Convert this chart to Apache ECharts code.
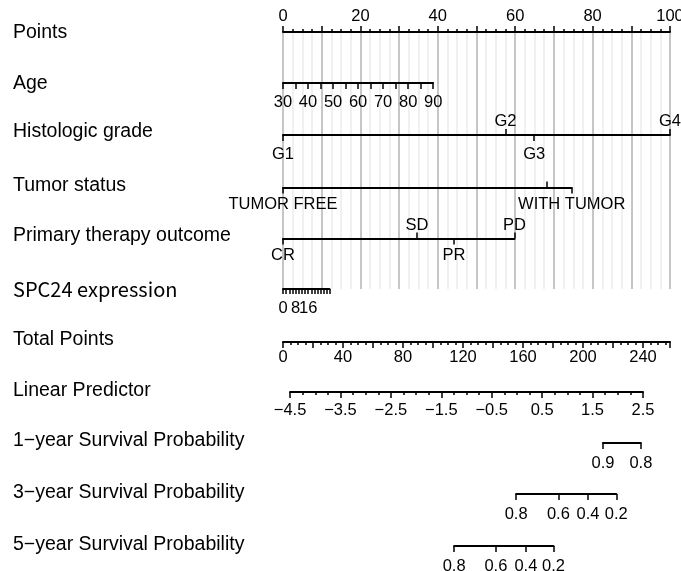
<!DOCTYPE html>
<html><head><meta charset="utf-8">
<script src="https://cdn.jsdelivr.net/npm/echarts@6/dist/echarts.min.js"></script>
<style>html,body{margin:0;padding:0;background:#fff}#c{width:681px;height:571px}</style>
</head><body><div id="c"></div>
<script>
// ---------- data ----------
const rowNames = ['Points','Age','Histologic grade','Tumor status','Primary therapy outcome','SPC24 expression','Total Points','Linear Predictor','1\u2212year Survival Probability','3\u2212year Survival Probability','5\u2212year Survival Probability'];

const pointsRange = [0, 100];
const ageRange = [30, 90];
const agePoints = [0, 38.8];
const gradeLevels = ['G1', 'G2', 'G3', 'G4'];
const gradePoints = [0, 57.5, 64.9, 100];
const gradeSide = ['below', 'above', 'below', 'above'];
const tumorLevels = ['TUMOR FREE', '', 'WITH TUMOR'];
const tumorPoints = [0, 68.2, 74.6];
const tumorSide = ['below', 'above', 'below'];
const therapyLevels = ['CR', 'SD', 'PR', 'PD'];
const therapyPoints = [0, 34.6, 44.2, 59.8];
const therapySide = ['below', 'above', 'below', 'above'];
const spcRange = [0, 29.5];
const spcPoints = [0, 12.0];
const spcLabels = [0, 8, 16];
const totalRange = [0, 258];
const lpRange = [-4.5, 2.5];
const lpTotal = [4.7, 240];
const lpLabels = [-4.5, -3.5, -2.5, -1.5, -0.5, 0.5, 1.5, 2.5];
const surv1Labels = [0.9, 0.8];
const surv1Total = [213.3, 238.6];
const surv3Labels = [0.8, 0.6, 0.4, 0.2];
const surv3Total = [155.4, 183.6, 203.3, 222.2];
const surv5Labels = [0.8, 0.6, 0.4, 0.2];
const surv5Total = [114.1, 141.9, 161.9, 180.3];

// ---------- layout ----------
const PX0 = 283, PX100 = 670;
const PPP = (PX100 - PX0) / (pointsRange[1] - pointsRange[0]);
const TPP = (PX100 - PX0) / (totalRange[1] - totalRange[0]);
const ptX = p => PX0 + p * PPP;
const tpX = t => PX0 + t * TPP;
const rowY = [32, 83, 135, 187.5, 238.5, 289, 342, 392, 443, 494, 546];
const labelY = [33, 84, 132, 186, 236, 289, 340, 391, 441, 493, 545];
const FONT = "'Liberation Sans', Arial, sans-serif";
const LINE = {color: '#000', width: 2};
const TICK = {color: '#000', width: 1.5};
const minus = s => String(s).replace('-', '\u2212');

const grids = [], xAxes = [], yAxes = [];
function addGrid(y, x0, x1, h) {
  const i = grids.length;
  grids.push({left: x0, top: y, width: x1 - x0, height: h || 0, containLabel: false, outerBoundsMode: 'none'});
  yAxes.push({gridIndex: i, type: 'value', show: false, min: 0, max: 1});
  return i;
}
function lbl(extra) {
  return Object.assign({color: '#000', fontSize: 16.5, fontFamily: FONT, margin: 9, hideOverlap: false,
    showMinLabel: true, showMaxLabel: true}, extra);
}
function axLine(show) { return {show: show, onZero: false, lineStyle: LINE}; }
function nearestName(v, vals, names) {
  let bi = 0, bd = Infinity;
  vals.forEach((x, i) => { const d = Math.abs(x - v); if (d < bd) { bd = d; bi = i; } });
  return names[bi];
}

// Points
let g = addGrid(rowY[0], ptX(0), ptX(100), rowY[5] - rowY[0]);
xAxes.push({gridIndex: g, type: 'value', position: 'top', min: pointsRange[0], max: pointsRange[1], interval: 10,
  axisLine: axLine(true),
  axisTick: {show: true, length: 6, lineStyle: TICK},
  minorTick: {show: true, splitNumber: 4, length: 3, lineStyle: TICK},
  splitLine: {show: true, lineStyle: {color: '#c6c6c6', width: 2}},
  minorSplitLine: {show: true, lineStyle: {color: '#ebebeb', width: 1.5}},
  axisLabel: lbl({margin: 7, formatter: v => (v % 20 === 0 ? String(v) : '')})});

// Age
g = addGrid(rowY[1], ptX(agePoints[0]), ptX(agePoints[1]));
xAxes.push({gridIndex: g, type: 'value', position: 'bottom', min: ageRange[0], max: ageRange[1], interval: 5,
  axisLine: axLine(true), splitLine: {show: false},
  axisTick: {show: true, length: 6, lineStyle: TICK},
  axisLabel: lbl({margin: 11, formatter: v => (v % 10 === 0 ? String(v) : '')})});

// Categorical
function addCat(y, names, pts, sides, mBelow, mAbove) {
  const gi = addGrid(y, ptX(Math.min(...pts)), ptX(Math.max(...pts)));
  const lo = Math.min(...pts), hi = Math.max(...pts);
  const below = pts.filter((p, i) => sides[i] === 'below');
  const above = pts.filter((p, i) => sides[i] === 'above');
  const fmt = v => nearestName(v, pts, names);
  xAxes.push({gridIndex: gi, type: 'value', position: 'bottom', min: lo, max: hi,
    axisLine: axLine(true), splitLine: {show: false},
    axisTick: {show: true, length: 6, lineStyle: TICK, customValues: below},
    axisLabel: lbl({customValues: below, formatter: fmt, margin: mBelow})});
  xAxes.push({gridIndex: gi, type: 'value', position: 'top', min: lo, max: hi,
    axisLine: axLine(false), splitLine: {show: false},
    axisTick: {show: true, length: 6, lineStyle: TICK, customValues: above},
    axisLabel: lbl({customValues: above, formatter: fmt, margin: mAbove})});
}
addCat(rowY[2], gradeLevels, gradePoints, gradeSide, 11, 5);
addCat(rowY[3], tumorLevels, tumorPoints, tumorSide, 8, 5);
addCat(rowY[4], therapyLevels, therapyPoints, therapySide, 8, 5);

// SPC24 (labels split over two overlaid axes so none is dropped as overlapping)
g = addGrid(rowY[5], ptX(spcPoints[0]), ptX(spcPoints[1]));
xAxes.push({gridIndex: g, type: 'value', position: 'bottom', min: spcRange[0], max: spcRange[1], interval: 2,
  axisLine: axLine(true), splitLine: {show: false},
  axisTick: {show: true, length: 5, lineStyle: TICK},
  axisLabel: lbl({customValues: spcLabels.filter((v, i) => i % 2 === 0), margin: 11, formatter: v => String(v)})});
xAxes.push({gridIndex: g, type: 'value', position: 'bottom', min: spcRange[0], max: spcRange[1],
  axisLine: axLine(false), splitLine: {show: false}, axisTick: {show: false},
  axisLabel: lbl({customValues: spcLabels.filter((v, i) => i % 2 === 1), margin: 11, formatter: v => String(v)})});

// Total points
g = addGrid(rowY[6], tpX(totalRange[0]), tpX(totalRange[1]));
xAxes.push({gridIndex: g, type: 'value', position: 'bottom', min: totalRange[0], max: totalRange[1], interval: 20,
  axisLine: axLine(true), splitLine: {show: false},
  axisTick: {show: true, length: 6, lineStyle: TICK},
  minorTick: {show: true, splitNumber: 4, length: 3, lineStyle: TICK},
  axisLabel: lbl({margin: 7, formatter: v => (v % 40 === 0 ? String(v) : '')})});

// Linear predictor
g = addGrid(rowY[7], tpX(lpTotal[0]), tpX(lpTotal[1]));
xAxes.push({gridIndex: g, type: 'value', position: 'bottom', min: lpRange[0], max: lpRange[1],
  axisLine: axLine(true), splitLine: {show: false},
  axisTick: {show: true, length: 6, lineStyle: TICK, customValues: lpLabels},
  axisLabel: lbl({customValues: lpLabels, margin: 10, formatter: v => minus(v.toFixed(1))})});
xAxes.push({gridIndex: g, type: 'value', position: 'bottom', min: lpRange[0], max: lpRange[1], interval: 0.25,
  axisLine: axLine(false), splitLine: {show: false},
  axisTick: {show: true, length: 3, lineStyle: TICK}, axisLabel: {show: false}});

// Survival
function addSurv(y, labels, tot) {
  const gi = addGrid(y, tpX(tot[0]), tpX(tot[tot.length - 1]));
  xAxes.push({gridIndex: gi, type: 'value', position: 'bottom', min: tot[0], max: tot[tot.length - 1],
    axisLine: axLine(true), splitLine: {show: false},
    axisTick: {show: true, length: 6, lineStyle: TICK, customValues: tot},
    axisLabel: lbl({customValues: tot, margin: 12, formatter: v => nearestName(v, tot, labels).toFixed(1)})});
}
addSurv(rowY[8], surv1Labels, surv1Total);
addSurv(rowY[9], surv3Labels, surv3Total);
addSurv(rowY[10], surv5Labels, surv5Total);

const graphic = rowNames.map((n, i) => ({
  type: 'text', x: 13, y: labelY[i],
  style: {text: n, fill: '#000', verticalAlign: 'middle',
    font: i === 5 ? "20px 'Noto Sans CJK SC', 'Noto Sans', sans-serif" : "19.5px " + FONT}
}));

const chart = echarts.init(document.getElementById('c'), null, {renderer: 'canvas'});
chart.setOption({
  animation: false,
  backgroundColor: '#fff',
  grid: grids, xAxis: xAxes, yAxis: yAxes,
  graphic: graphic,
  series: []
});
</script></body></html>
